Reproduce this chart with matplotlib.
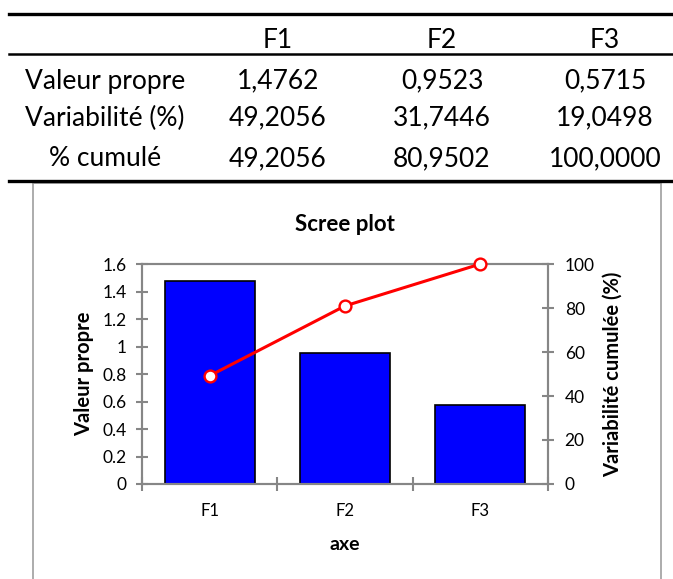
import matplotlib
matplotlib.use('Agg')
import matplotlib.pyplot as plt
from matplotlib.patches import Rectangle
from matplotlib.lines import Line2D

plt.rcParams['font.family'] = ['Lato', 'DejaVu Sans']

# data
axes_names = ["F1", "F2", "F3"]
row_labels = ["Valeur propre", "Variabilité (%)", "% cumulé"]
eigenvalues = [1.4762, 0.9523, 0.5715]
variability = [49.2056, 31.7446, 19.0498]
cumulative = [49.2056, 80.9502, 100.0000]

W, H = 673, 579
fig = plt.figure(figsize=(W / 100, H / 100), dpi=100)


def fx(px):
    return px / W


def fy(py):
    return 1 - py / H


def fmt(v):
    return f"{v:.4f}".replace(".", ",")


# ---- table ----
for y, lw in [(14, 2.4), (54, 1.8), (181, 2.4)]:
    fig.add_artist(Line2D([fx(9), 1], [fy(y), fy(y)], color='black', lw=lw))

col_x = [278, 442, 605]
row_y = [81, 118, 159]
tsize = 19
for name, x in zip(axes_names, col_x):
    fig.text(fx(x), fy(41), name, ha='center', va='center', fontsize=tsize)
rows = [eigenvalues, variability, cumulative]
for label, y, vals in zip(row_labels, row_y, rows):
    fig.text(fx(105), fy(y), label, ha='center', va='center', fontsize=tsize)
    for x, v in zip(col_x, vals):
        fig.text(fx(x), fy(y), fmt(v), ha='center', va='center', fontsize=tsize)

# ---- chart box ----
fig.add_artist(Rectangle((fx(33), fy(585)), fx(661) - fx(33), fy(183) - fy(585),
                         fill=False, edgecolor='#a6a6a6', lw=1.3))

ax = fig.add_axes([fx(142), fy(484), fx(548) - fx(142), fy(264) - fy(484)])
pos = range(len(axes_names))
ax.bar(pos, eigenvalues, width=0.667, color='#0000ff', edgecolor='black', lw=1.2, zorder=2)
ax.set_xlim(-0.5, 2.5)
ax.set_ylim(0, 1.6)
ax.set_yticks([0, 0.2, 0.4, 0.6, 0.8, 1, 1.2, 1.4, 1.6])
ax.set_yticklabels(['0', '0.2', '0.4', '0.6', '0.8', '1', '1.2', '1.4', '1.6'])
ax.set_xticks([-0.5, 0.5, 1.5, 2.5])
ax.set_xticklabels([])
ax.set_xticks(list(pos), minor=True)
ax.set_xticklabels(axes_names, minor=True)
ax.tick_params(axis='x', which='minor', length=0, labelsize=12, pad=14)
ax.tick_params(axis='x', which='major', direction='inout', length=10, color='#868686', width=1.5)
ax.tick_params(axis='y', direction='inout', length=8, color='#868686', width=1.5, labelsize=12.5, pad=7)
for s in ax.spines.values():
    s.set_color('#868686')
    s.set_linewidth(1.5)
ax.set_xlabel('axe', fontsize=14, fontweight='bold', labelpad=12)
ax.set_ylabel('Valeur propre', fontsize=14.5, fontweight='bold', labelpad=6)
ax.set_title('Scree plot', fontsize=16, fontweight='bold', pad=24)

ax2 = ax.twinx()
ax2.plot(pos, cumulative, color='red', lw=2.2, marker='o', markersize=8.5,
         markerfacecolor='white', markeredgecolor='red', markeredgewidth=1.7,
         zorder=3, clip_on=False)
ax2.set_ylim(0, 100)
ax2.set_yticks([0, 20, 40, 60, 80, 100])
ax2.tick_params(axis='y', direction='inout', length=8, color='#868686', width=1.5, labelsize=12.5, pad=8)
for s in ax2.spines.values():
    s.set_color('#868686')
    s.set_linewidth(1.5)
ax2.set_ylabel('Variabilité cumulée (%)', fontsize=14.5, fontweight='bold', labelpad=6)

fig.savefig('out.png', dpi=100)
